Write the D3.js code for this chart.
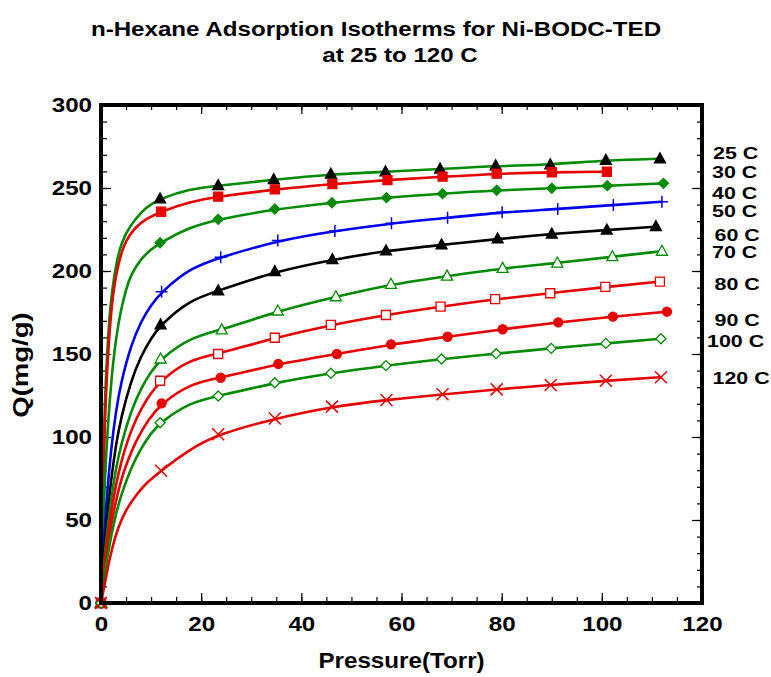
<!DOCTYPE html>
<html><head><meta charset="utf-8">
<script src="https://cdn.jsdelivr.net/npm/d3@7"></script>
<style>
html,body{margin:0;padding:0;background:#fff;}
svg{display:block;}
text{font-family:"Liberation Sans",Arial,Helvetica,sans-serif;font-weight:bold;fill:#000;}
</style></head><body>
<svg id="chart" width="771" height="677"></svg>
<script>
// ---- data -------------------------------------------------------------
const temps = ["25 C","30 C","40 C","50 C","60 C","70 C","80 C","90 C","100 C","120 C"];

// measured points: pressure (Torr) / uptake Q (mg/g)
const p25 = [0, 11.8, 23.4, 34.5, 45.9, 56.8, 67.7, 78.8, 89.7, 100.8, 111.6];
const q25 = [0, 243.4, 251.4, 255.0, 258.3, 259.8, 261.4, 263.3, 264.0, 266.7, 267.6];
const p30 = [0, 12.0, 23.4, 34.7, 46.2, 57.2, 68.2, 79.0, 90.0, 101.0];
const q30 = [0, 235.7, 244.8, 249.2, 252.4, 254.8, 256.8, 258.6, 259.5, 259.8];
const p40 = [0, 11.8, 23.4, 34.7, 46.1, 57.0, 68.2, 79.0, 90.0, 101.1, 112.3];
const q40 = [0, 217.0, 231.1, 237.3, 241.1, 244.2, 246.6, 248.6, 249.8, 251.4, 252.8];
const p50 = [0, 12.1, 23.9, 35.3, 46.7, 58.0, 69.2, 80.1, 91.2, 102.3, 112.0];
const q50 = [0, 187.5, 208.3, 218.3, 224.1, 228.7, 232.1, 235.4, 237.3, 239.8, 241.7];
const p60 = [0, 11.9, 23.4, 34.7, 46.2, 56.9, 68.0, 79.2, 90.0, 101.0, 110.8];
const q60 = [0, 167.5, 188.1, 199.7, 206.8, 212.2, 215.7, 219.3, 222.3, 224.7, 226.7];
const p70 = [0, 11.9, 24.1, 35.3, 46.9, 57.9, 69.1, 80.2, 91.1, 102.1, 112.0];
const q70 = [0, 147.0, 164.5, 175.9, 184.5, 192.0, 196.9, 201.6, 204.8, 208.6, 211.9];
const p80 = [0, 11.8, 23.4, 34.7, 45.9, 56.9, 67.8, 78.7, 89.7, 100.7, 111.6];
const q80 = [0, 133.9, 150.0, 159.8, 167.5, 173.5, 178.5, 183.0, 186.6, 190.4, 193.6];
const p90 = [0, 12.1, 23.9, 35.4, 47.1, 57.9, 69.2, 80.2, 91.3, 102.2, 113.0];
const q90 = [0, 120.3, 135.7, 144.0, 150.0, 155.8, 160.4, 164.9, 169.1, 172.5, 175.5];
const p100 = [0, 11.8, 23.4, 34.7, 45.9, 56.9, 68.0, 78.9, 89.9, 100.8, 111.8];
const q100 = [0, 108.6, 124.7, 132.7, 138.4, 143.0, 147.0, 150.2, 153.4, 156.4, 159.2];
const p120 = [0, 12.0, 23.4, 34.7, 46.1, 57.0, 68.2, 79.0, 89.8, 100.8, 111.8];
const q120 = [0, 79.7, 101.7, 111.1, 118.3, 122.3, 125.7, 128.7, 131.3, 133.9, 136.0];

// fitted isotherm curve knots (steep low-pressure region and the first bend)
const fit25P = [0.5, 1, 1.66, 2, 3, 4.2, 5.65, 8.3, 10, 17.6];
const fit25Q = [96, 140, 171, 182.5, 205, 218, 226.7, 236.5, 240.3, 249.4];
const fit30P = [0.5, 1, 1.5, 2, 2.5, 3, 3.65, 4.65, 5.65, 7, 9, 17.7];
const fit30Q = [85, 127, 155, 174.5, 188, 197, 206.6, 216, 221.5, 226.5, 231.5, 241.7];
const fit40P = [0.5, 1, 2, 3, 4, 5, 6, 8, 10, 17.6];
const fit40Q = [55, 90, 134, 160, 177, 189, 198, 207.5, 213, 226.4];
const fit50P = [0.5, 1, 2, 3, 4, 6, 8, 10, 18];
const fit50Q = [33, 58, 93, 116, 133, 155.5, 169.7, 179.6, 202.2];
const fit60P = [0.5, 1, 2, 3, 4, 6, 8, 10, 17.6];
const fit60Q = [25, 44.7, 74.4, 95.7, 111.7, 134, 148.9, 159.5, 182.4];
const fit70P = [0.5, 1, 2, 3, 4, 6, 8, 10, 18];
const fit70Q = [20.4, 37.1, 62.6, 81.3, 95.5, 115.8, 129.5, 139.4, 160.3];
const fit80P = [0.5, 1, 2, 3, 4, 5.3, 7, 9, 17.6];
const fit80Q = [17.4, 31.8, 54.5, 71.5, 84.7, 98, 111.1, 122.4, 146.7];
const fit90P = [0.5, 1, 2, 3, 4, 5, 7, 9.5, 18];
const fit90Q = [14.7, 27.1, 46.9, 62, 73.8, 83.4, 98, 110.7, 132.4];
const fit100P = [0.5, 1, 2, 3, 4, 6, 8, 10, 17.6];
const fit100Q = [12.3, 22.9, 40.3, 53.9, 64.9, 81.5, 93.4, 102.3, 120.7];
const fit120P = [0.66, 1.34, 2.2, 3.33, 5, 7, 9, 17.7];
const fit120Q = [10, 21, 33, 45, 56.5, 65, 72.3, 92.6];

// axis ticks
const xTicks = [0, 20, 40, 60, 80, 100, 120];
const yTicks = [0, 50, 100, 150, 200, 250, 300];

// ---- styling ------------------------------------------------------------
const GREEN = "#008a00", RED = "#e60000", BLUE = "#0000f0", BLACK = "#000";
const styles = [
  {line: GREEN, mark: "triangle", fill: BLACK, stroke: BLACK},
  {line: RED,   mark: "square",   fill: RED,   stroke: RED},
  {line: GREEN, mark: "diamond",  fill: GREEN, stroke: GREEN},
  {line: BLUE,  mark: "plus",     fill: "none", stroke: BLUE},
  {line: BLACK, mark: "triangle", fill: BLACK, stroke: BLACK},
  {line: GREEN, mark: "triangle", fill: "#fff", stroke: GREEN},
  {line: RED,   mark: "square",   fill: "#fff", stroke: RED},
  {line: RED,   mark: "circle",   fill: RED,   stroke: RED},
  {line: GREEN, mark: "diamond",  fill: "#fff", stroke: GREEN},
  {line: RED,   mark: "cross",    fill: "none", stroke: RED}
];
// label anchor heights (in Q units) on the right margin
const labelAt = [271.3, 259.5, 246.8, 236.1, 221.7, 211.6, 192.2, 170.5, 158.0, 135.4];
const labelShift = [1, 0, 0, 0, 2.5, 0, 2.5, 2.5, -5, 0.5];

const series = [
  [p25, q25, fit25P, fit25Q], [p30, q30, fit30P, fit30Q], [p40, q40, fit40P, fit40Q],
  [p50, q50, fit50P, fit50Q], [p60, q60, fit60P, fit60Q], [p70, q70, fit70P, fit70Q],
  [p80, q80, fit80P, fit80Q], [p90, q90, fit90P, fit90Q], [p100, q100, fit100P, fit100Q],
  [p120, q120, fit120P, fit120Q]
].map((s, i) => ({
  name: temps[i],
  pts: s[0].map((p, j) => ({p, q: s[1][j]})),
  curve: s[0].map((p, j) => ({p, q: s[1][j]}))
           .concat(s[2].map((p, j) => ({p, q: s[3][j]})))
           .sort((a, b) => a.p - b.p),
  style: styles[i]
}));

// ---- layout -------------------------------------------------------------
const SX = 1.15;                      // horizontal text stretch
const M = {left: 101, right: 702, top: 105, bottom: 603};
const svg = d3.select("#chart");
const x = d3.scaleLinear().domain([0, 120]).range([M.left, M.right]);
const y = d3.scaleLinear().domain([0, 300]).range([M.bottom, M.top]);

function label(g, str, tx, ty, size, opt = {}) {
  const rot = opt.rotate ? ` rotate(${opt.rotate})` : "";
  return g.append("text")
    .attr("transform", `translate(${tx},${ty})${rot} scale(${opt.sx || SX},1)`)
    .attr("text-anchor", opt.anchor || "middle")
    .attr("dy", opt.dy || 0)
    .style("font-size", size + "px")
    .text(str);
}

// title
label(svg, "n-Hexane Adsorption Isotherms for Ni-BODC-TED", 376, 36, 21);
label(svg, "at 25 to 120 C", 400, 62, 21);

// ticks: major + minor on all four sides, pointing inward
function ticks(axisFn, tr, vals, len) {
  const g = svg.append("g").attr("transform", tr)
    .call(axisFn.tickValues(vals).tickSize(-len).tickFormat(""));
  g.select(".domain").remove();
  g.selectAll(".tick line").attr("stroke", "#000").attr("stroke-width", 1.2);
  return g;
}
const xMinor = d3.range(0, 121, 5), yMinor = d3.range(0, 301, 10);
ticks(d3.axisBottom(x), `translate(0,${M.bottom})`, xMinor, 6);
ticks(d3.axisBottom(x), `translate(0,${M.bottom})`, xTicks, 10);
ticks(d3.axisTop(x), `translate(0,${M.top})`, xMinor, 5);
ticks(d3.axisTop(x), `translate(0,${M.top})`, xTicks, 9);
ticks(d3.axisLeft(y), `translate(${M.left},0)`, yMinor, 6);
ticks(d3.axisLeft(y), `translate(${M.left},0)`, yTicks, 10);
ticks(d3.axisRight(y), `translate(${M.right},0)`, yMinor, 5);
ticks(d3.axisRight(y), `translate(${M.right},0)`, yTicks, 10);

// tick labels
const gxl = svg.append("g").attr("transform", `translate(0,${M.bottom})`)
  .call(d3.axisBottom(x).tickValues(xTicks).tickSize(0).tickPadding(13));
gxl.select(".domain").remove();
gxl.selectAll(".tick text").attr("transform", `scale(${SX},1)`).style("font-size", "21px");
gxl.attr("font-family", null).attr("font-size", null);
const gyl = svg.append("g").attr("transform", `translate(${M.left},0)`)
  .call(d3.axisLeft(y).tickValues(yTicks).tickSize(0).tickPadding(9));
gyl.select(".domain").remove();
gyl.selectAll(".tick text").attr("x", -9 / SX).attr("transform", `scale(${SX},1)`)
  .style("font-size", "21px");
gyl.attr("font-family", null).attr("font-size", null);

// axis titles
label(svg, "Pressure(Torr)", (M.left + M.right) / 2, 668, 22, {sx: 1.1});
label(svg, "Q(mg/g)", 28, 365, 22, {rotate: -90, sx: 1.25});

// fitted curves: smooth B-spline through the knots and measured points
const line = d3.line().x(d => x(d.p)).y(d => y(d.q)).curve(d3.curveBasis);
const plot = svg.append("g");
series.forEach(s => {
  plot.append("path").datum(s.curve).attr("d", line)
    .attr("fill", "none").attr("stroke", s.style.line)
    .attr("stroke-width", 2.6).attr("stroke-linejoin", "round");
});

// markers
function markPath(kind) {
  switch (kind) {
    case "triangle": return "M0,-6L5.5,4L-5.5,4Z";
    case "square": return "M-4.5,-4.5H4.5V4.5H-4.5Z";
    case "diamond": return "M0,-5L5,0L0,5L-5,0Z";
    case "circle": return "M4.5,0A4.5,4.5 0 1,1 -4.5,0A4.5,4.5 0 1,1 4.5,0Z";
    case "plus": return "M-6,0H6M0,-6V6";
    case "cross": return "M-6,-6L6,6M-6,6L6,-6";
  }
}
series.forEach(s => {
  plot.selectAll(null).data(s.pts).enter().append("path")
    .attr("transform", d => `translate(${x(d.p)},${y(d.q)})`)
    .attr("d", markPath(s.style.mark))
    .attr("fill", s.style.fill)
    .attr("stroke", s.style.stroke)
    .attr("stroke-width", s.style.fill === "none" ? 1.5 : 1.3);
});

// frame
svg.append("rect").attr("x", M.left).attr("y", M.top)
  .attr("width", M.right - M.left).attr("height", M.bottom - M.top)
  .attr("fill", "none").attr("stroke", "#000").attr("stroke-width", 4);

// series labels on the right
series.forEach((s, i) => {
  label(svg, s.name, 712 + labelShift[i], y(labelAt[i]), 16.5, {anchor: "start", dy: "0.36em", sx: 1.3});
});
</script>
</body></html>
